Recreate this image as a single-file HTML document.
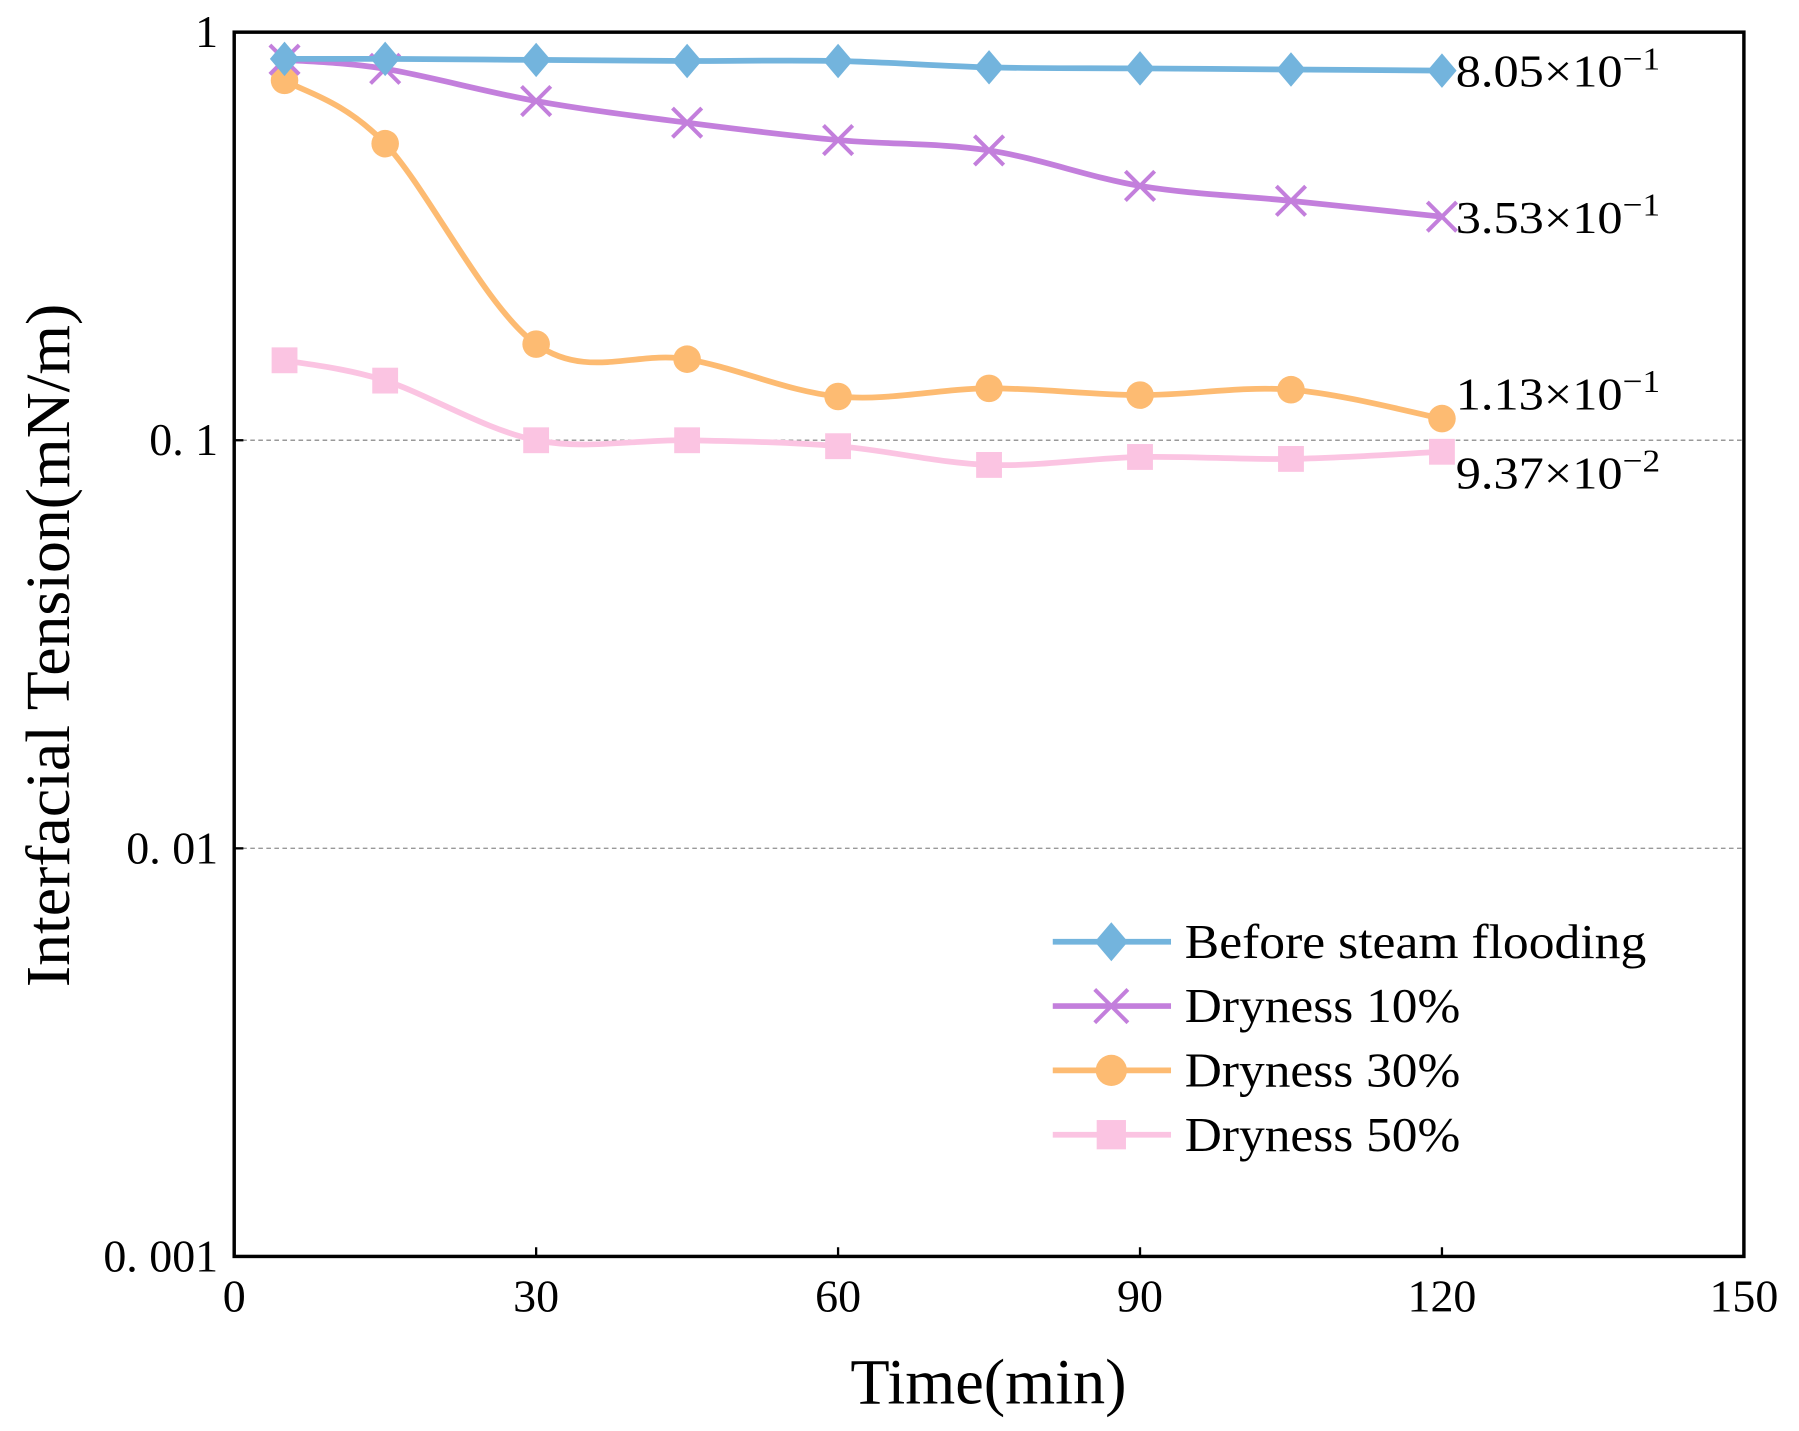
<!DOCTYPE html>
<html><head><meta charset="utf-8"><style>
html,body{margin:0;padding:0;background:#fff;}
svg{display:block;font-family:"Liberation Serif",serif;}
</style></head><body>
<svg id="chart" width="1799" height="1431" viewBox="0 0 1567 1246" preserveAspectRatio="none" xmlns="http://www.w3.org/2000/svg">
<g id="grid"></g><g id="series"></g><g id="axes"></g><g id="legend"></g>
</svg>
<script>
const times=[5,15,30,45,60,75,90,105,120];
const before=[0.86,0.86,0.855,0.85,0.85,0.82,0.815,0.81,0.805];
const dry10=[0.856,0.813,0.678,0.60,0.544,0.513,0.42,0.386,0.353];
const dry30=[0.762,0.533,0.172,0.158,0.128,0.134,0.129,0.133,0.113];
const dry50=[0.157,0.14,0.1,0.1,0.0967,0.087,0.091,0.090,0.0937];
const seriesNames=["Before steam flooding","Dryness 10%","Dryness 30%","Dryness 50%"];
const endLabels=["8.05×10","3.53×10","1.13×10","9.37×10"];
const endExp=["−1","−1","−1","−2"];
const xTicks=[0,30,60,90,120,150];
const yTicks=[1,0.1,0.01,0.001];
const yTickLabels=["1","0. 1","0. 01","0. 001"];

const L=204,R=1519,T=28,B=1094;
const X=v=>L+(v/150)*(R-L);
const Y=v=>T+(-Math.log10(v)/3)*(B-T);
const NS="http://www.w3.org/2000/svg";
function mk(tag,attrs,parent){const e=document.createElementNS(NS,tag);for(const k in attrs)e.setAttribute(k,attrs[k]);parent.appendChild(e);return e;}
const grid=document.getElementById('grid'),ser=document.getElementById('series'),axes=document.getElementById('axes'),leg=document.getElementById('legend');

[0.1,0.01].forEach(v=>{const l=mk('line',{x1:L,x2:R,y1:Y(v),y2:Y(v),stroke:'#999','stroke-width':1.2,'stroke-dasharray':'4,3'},grid);

});

const colors=["#73b4dd","#c37fdc","#fdbb72","#fbc4e2"];
const data=[before,dry10,dry30,dry50];
const markers=["diamond","x","circle","square"];
function marker(type,x,y,c,p,s){
 let e;
 if(type==="diamond")e=mk('polygon',{points:`${x},${y-s} ${x+s*0.85},${y} ${x},${y+s} ${x-s*0.85},${y}`,fill:c},p);
 else if(type==="circle")e=mk('circle',{cx:x,cy:y,r:s*0.8,fill:c},p);
 else if(type==="square")e=mk('rect',{x:x-s*0.75,y:y-s*0.75,width:s*1.5,height:s*1.5,fill:c},p);
 else e=mk('path',{d:`M${x-s*0.85},${y-s*0.85}L${x+s*0.85},${y+s*0.85}M${x+s*0.85},${y-s*0.85}L${x-s*0.85},${y+s*0.85}`,stroke:c,'stroke-width':3.5,fill:'none'},p);
 return e;
}
function smooth(pts){let d=`M${pts[0][0]},${pts[0][1]}`;
 for(let i=0;i<pts.length-1;i++){const p0=pts[i-1]||pts[i],p1=pts[i],p2=pts[i+1],p3=pts[i+2]||p2;
 d+=`C${p1[0]+(p2[0]-p0[0])/6},${p1[1]+(p2[1]-p0[1])/6} ${p2[0]-(p3[0]-p1[0])/6},${p2[1]-(p3[1]-p1[1])/6} ${p2[0]},${p2[1]}`;}
 return d;}
[3,2,1,0].forEach(si=>{
 const g=mk('g',{},ser);
 
 
 const pts=times.map((t,i)=>[X(t),Y(data[si][i])]);
 const p=mk('path',{d:smooth(pts),fill:'none',stroke:colors[si],'stroke-width':5},g);
 
 
 pts.forEach(q=>{const m=marker(markers[si],q[0],q[1],colors[si],g,15);
 
 });
 const last=pts[pts.length-1];
 const off=[14,14,-8,32][si];
 const t=mk('text',{x:1268,y:last[1]+off,'font-size':40,fill:'#000',textLength:178,lengthAdjust:'spacingAndGlyphs'},g);
 t.textContent=endLabels[si];
 const sup=mk('tspan',{dy:-15,'font-size':28},t);sup.textContent=endExp[si];
 
 
});

const frame=mk('rect',{x:L,y:T,width:R-L,height:B-T,fill:'none',stroke:'#000','stroke-width':3},axes);


xTicks.forEach(v=>{mk('line',{x1:X(v),x2:X(v),y1:B,y2:B-8,stroke:'#000','stroke-width':2},axes);
 const t=mk('text',{x:X(v),y:B+48,'font-size':40,'text-anchor':'middle'},axes);t.textContent=v;
 
 });
yTicks.forEach((v,i)=>{mk('line',{x1:L,x2:L+8,y1:Y(v),y2:Y(v),stroke:'#000','stroke-width':2},axes);
 const t=mk('text',{x:L-14,y:Y(v)+13,'font-size':40,'text-anchor':'end'},axes);t.textContent=yTickLabels[i];
 
 });
const xt=mk('text',{x:861,y:1222,'font-size':56,'text-anchor':'middle'},axes);xt.textContent="Time(min)";


const yt=mk('text',{x:0,y:0,'font-size':54,'text-anchor':'middle',textLength:595,lengthAdjust:'spacingAndGlyphs',transform:'translate(60,562) rotate(-90)'},axes);yt.textContent="Interfacial Tension(mN/m)";



const legW=[402,240,240,240];
seriesNames.forEach((n,i)=>{const y=820+i*56;
 const g=mk('g',{},leg);
 
 
 mk('line',{x1:917,x2:1020,y1:y,y2:y,stroke:colors[i],'stroke-width':5},g);
 marker(markers[i],968,y,colors[i],g,17);
 const t=mk('text',{x:1032,y:y+14,'font-size':42,textLength:legW[i],lengthAdjust:'spacingAndGlyphs'},g);t.textContent=n;});
</script>
</body></html>
